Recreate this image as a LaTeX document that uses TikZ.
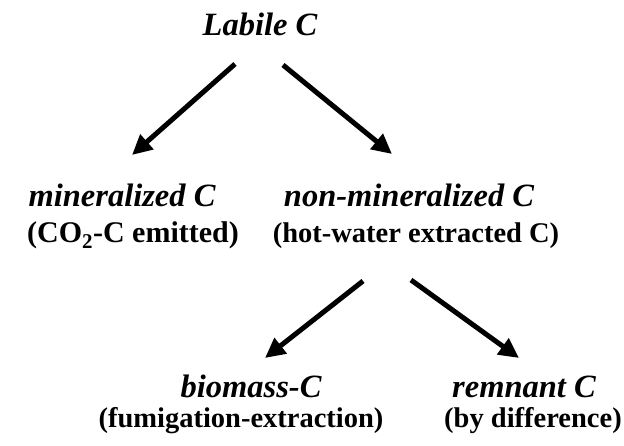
\documentclass[tikz,border=0pt]{standalone}
\usepackage{fontspec}
\setmainfont{Liberation Serif}
\usetikzlibrary{arrows.meta}
\begin{document}
\begin{tikzpicture}[x=1pt,y=-1pt,
        pool/.style={anchor=base,inner sep=0pt,font=\fontsize{32.5}{38}\selectfont\bfseries\itshape},
        method/.style={anchor=base,inner sep=0pt,font=\fontsize{28.5}{34}\selectfont\bfseries},
        flow/.style={line width=5pt,-{Triangle[length=20pt,width=19pt]}}]
            \useasboundingbox (0,0) rectangle (624,446);

            \node[pool] (labile) at (260,36) {Labile C};

            \node[pool] (mineral) at (122,207) {mineralized C};
            \node[method,font=\fontsize{30}{34}\selectfont\bfseries] (co2) at (133,243) {(CO\textsubscript{2}-C emitted)};
            \node[pool] (nonmineral) at (409,207) {non-mineralized C};
            \node[method] (hotwater) at (416,243) {(hot-water extracted C)};

            \node[pool] (biomass) at (251,397) {biomass-C};
            \node[method] (fumigation) at (241,427) {(fumigation-extraction)};
            \node[pool] (remnant) at (524,397) {remnant C};
            \node[method] (difference) at (533,427) {(by difference)};

            \draw[flow] ([shift={(-25,28)}]labile.base) -- ([shift={(10,-52)}]mineral.base);
            \draw[flow] ([shift={(23,29)}]labile.base) -- ([shift={(-17,-53)}]nonmineral.base);
            \draw[flow] ([shift={(-53,38)}]hotwater.base) -- ([shift={(14,-39)}]biomass.base);
            \draw[flow] ([shift={(-5,37)}]hotwater.base) -- ([shift={(-5,-39)}]remnant.base);
        \end{tikzpicture}
\end{document}
